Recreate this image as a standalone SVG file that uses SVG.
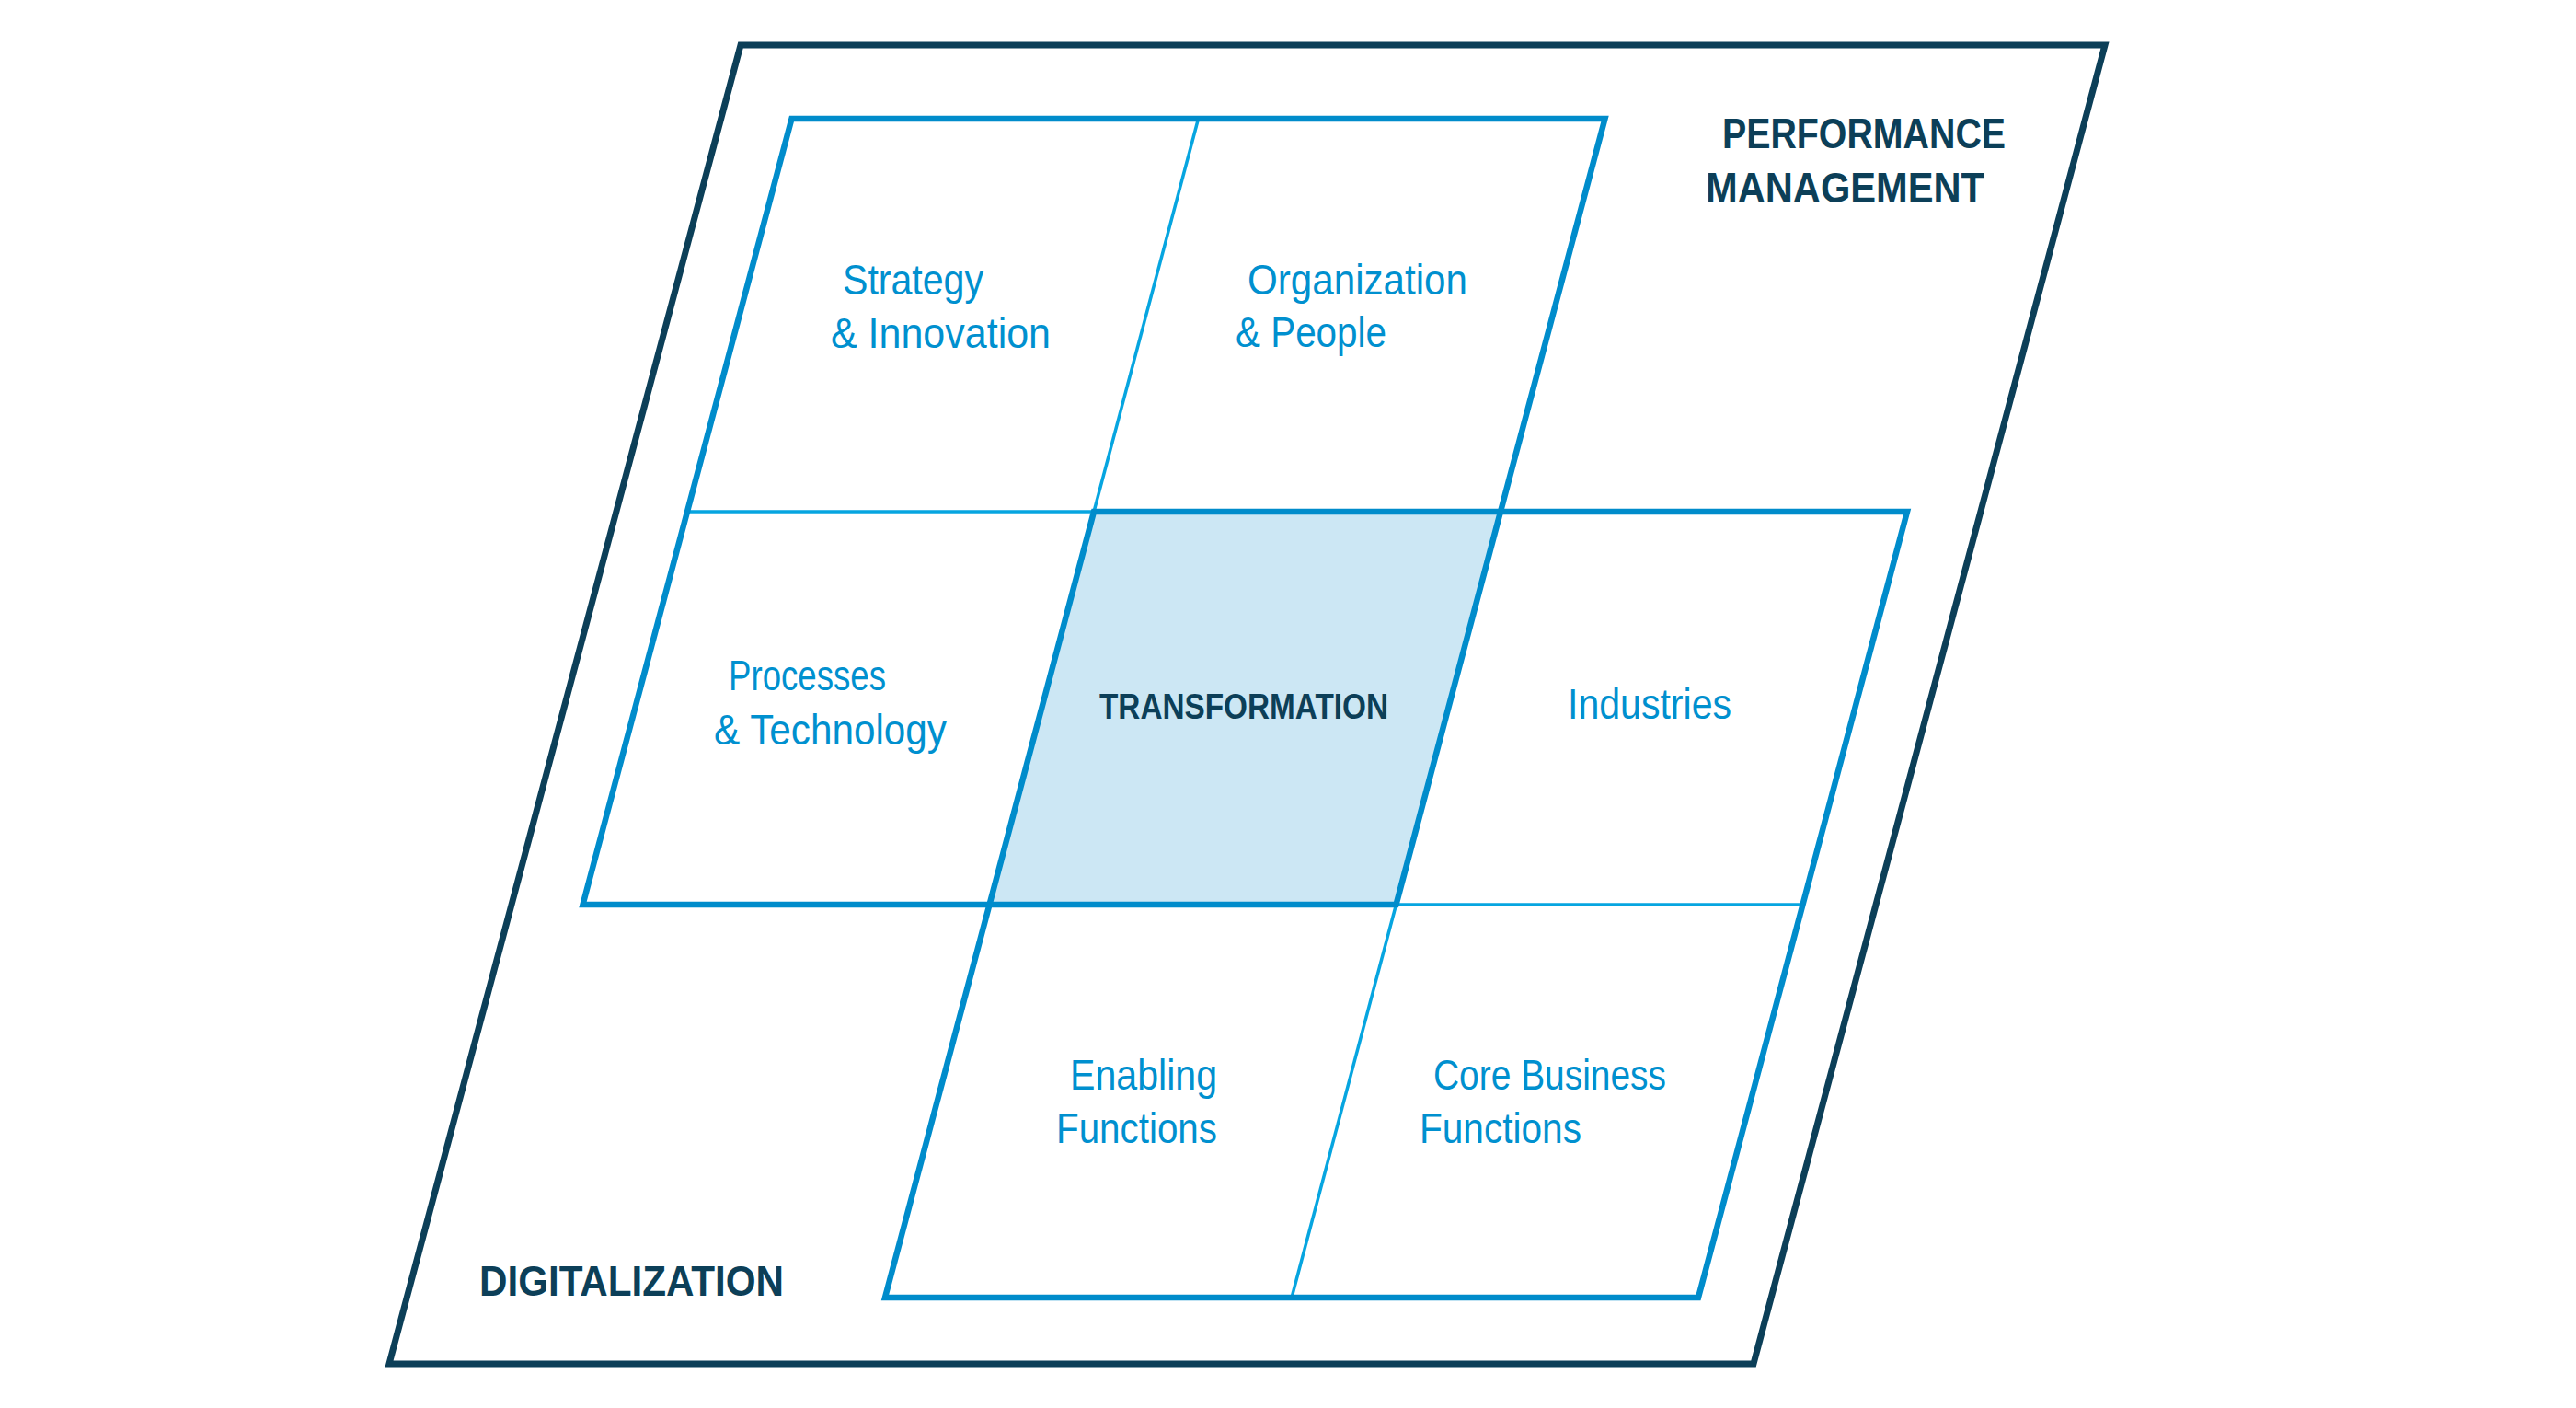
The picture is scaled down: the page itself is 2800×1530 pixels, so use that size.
<svg xmlns="http://www.w3.org/2000/svg" width="2800" height="1530" viewBox="0 0 2800 1530">
<style>
.outer{fill:none;stroke:#0c3f58;stroke-width:7;stroke-linejoin:miter;stroke-miterlimit:10}
.thick{fill:none;stroke:#008ccb;stroke-width:6.5;stroke-linejoin:miter;stroke-miterlimit:10}
.thin{fill:none;stroke:#06a5e0;stroke-width:3.5}
.core{fill:#cce7f4;stroke:none}
.lbl{font-family:"Liberation Sans",Arial,sans-serif;font-size:46px;fill:#0090cf}
.dark{font-family:"Liberation Sans",Arial,sans-serif;font-size:46px;font-weight:bold;fill:#0c3f58}
.center{font-family:"Liberation Sans",Arial,sans-serif;font-size:38px;font-weight:bold;fill:#0c3f58}
</style>
<rect width="2800" height="1530" fill="#ffffff"/>
<g id="transformation">
<polygon class="core" points="1189,556 1631,556 1517.5,983 1075.5,983"/>
<text class="center" x="1195" y="781" textLength="314" lengthAdjust="spacingAndGlyphs">TRANSFORMATION</text>
</g>
<g id="connectors">
<line class="thin" x1="1302.5" y1="129" x2="1189" y2="556"/>
<line class="thin" x1="747" y1="556" x2="1189" y2="556"/>
<line class="thin" x1="1517.5" y1="983" x2="1404" y2="1410"/>
<line class="thin" x1="1517.5" y1="983" x2="1959.5" y2="983"/>
<polygon class="thick" points="860.5,129 1744.5,129 1517.5,983 633.5,983"/>
<polygon class="thick" points="1189,556 2073,556 1846,1410 962,1410"/>
<polygon class="outer" points="805,49 2288,49 1906,1482 423,1482"/>
</g>
<g id="strategy-innovation">
<text class="lbl" x="916" y="320" textLength="153" lengthAdjust="spacingAndGlyphs">Strategy</text>
<text class="lbl" x="903" y="378" textLength="239" lengthAdjust="spacingAndGlyphs">&amp; Innovation</text>
</g>
<g id="organization-people">
<text class="lbl" x="1356" y="320" textLength="239" lengthAdjust="spacingAndGlyphs">Organization</text>
<text class="lbl" x="1343" y="377" textLength="164" lengthAdjust="spacingAndGlyphs">&amp; People</text>
</g>
<g id="processes-technology">
<text class="lbl" x="792" y="750" textLength="171" lengthAdjust="spacingAndGlyphs">Processes</text>
<text class="lbl" x="776" y="809" textLength="253" lengthAdjust="spacingAndGlyphs">&amp; Technology</text>
</g>
<g id="industries">
<text class="lbl" x="1704" y="781" textLength="178" lengthAdjust="spacingAndGlyphs">Industries</text>
</g>
<g id="enabling-functions">
<text class="lbl" x="1163" y="1184" textLength="160" lengthAdjust="spacingAndGlyphs">Enabling</text>
<text class="lbl" x="1148" y="1242" textLength="175" lengthAdjust="spacingAndGlyphs">Functions</text>
</g>
<g id="core-business-functions">
<text class="lbl" x="1558" y="1184" textLength="253" lengthAdjust="spacingAndGlyphs">Core Business</text>
<text class="lbl" x="1543" y="1242" textLength="176" lengthAdjust="spacingAndGlyphs">Functions</text>
</g>
<g id="performance-management">
<text class="dark" x="1872" y="161" textLength="308" lengthAdjust="spacingAndGlyphs">PERFORMANCE</text>
<text class="dark" x="1854" y="220" textLength="303" lengthAdjust="spacingAndGlyphs">MANAGEMENT</text>
</g>
<g id="digitalization">
<text class="dark" x="521" y="1408" textLength="331" lengthAdjust="spacingAndGlyphs">DIGITALIZATION</text>
</g>
</svg>
